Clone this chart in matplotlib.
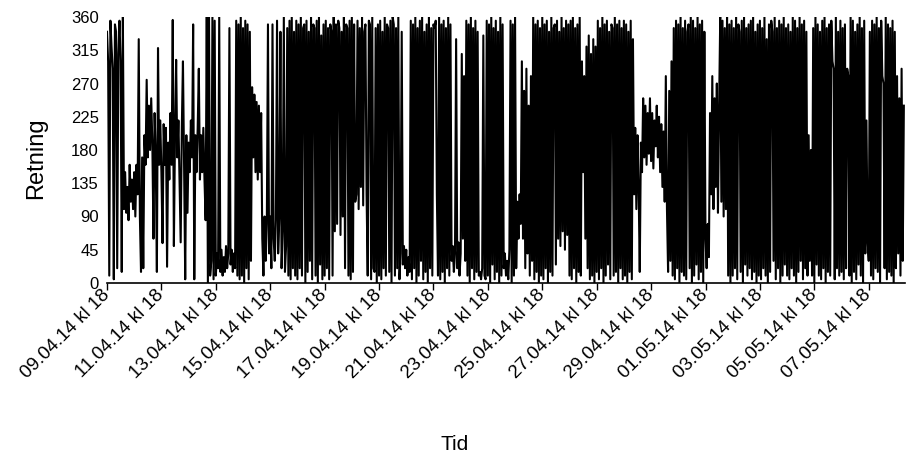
import matplotlib
matplotlib.use('Agg')
import matplotlib.pyplot as plt
import numpy as np

plt.rcParams['font.family'] = ['Liberation Sans', 'DejaVu Sans']

# wind direction (degrees), hourly readings from 09.04.14 kl 18
step_hours = 1

week1 = [340, 300, 10, 355, 320, 290, 5, 350, 340, 20, 310, 355, 300, 15, 360, 100, 150, 95, 130, 85, 160, 110, 140, 100,
         150, 90, 160, 120, 330, 90, 15, 170, 20, 200, 160, 275, 170, 240, 180, 250, 190, 60, 230, 170, 15, 318, 160, 220,
         150, 54, 215, 160, 210, 22, 190, 140, 230, 160, 356, 50, 200, 302, 170, 220, 140, 55, 210, 300, 160, 5, 200, 95,
         190, 150, 220, 170, 350, 5, 200, 150, 210, 290, 140, 200, 150, 210, 140, 85, 360, 0, 360, 10, 30, 360, 5, 355,
         10, 40, 20, 360, 15, 45, 10, 35, 15, 50, 20, 40, 345, 25, 45, 15, 40, 20, 355, 10, 350, 5, 360, 10,
         345, 0, 355, 20, 350, 5, 340, 30, 265, 170, 255, 150, 245, 140, 240, 150, 230, 60, 10, 90, 30, 80, 350, 40,
         90, 20, 350, 60, 30, 85, 355, 40, 90, 340, 20, 70, 360, 15, 50, 345, 10, 355, 5, 360, 20, 340, 10, 355]

week2 = [5, 350, 20, 360, 10, 345, 350, 0, 355, 15, 340, 30, 360, 5, 350, 345, 10, 355, 0, 360, 25, 335, 5, 350,
         10, 355, 20, 345, 5, 350, 340, 10, 360, 70, 350, 80, 355, 345, 65, 340, 90, 360, 20, 350, 345, 10, 355, 5,
         360, 15, 350, 110, 120, 355, 100, 345, 130, 360, 105, 340, 350, 120, 10, 355, 350, 5, 360, 20, 15, 345, 0, 350,
         10, 355, 5, 340, 20, 360, 10, 350, 345, 15, 355, 0, 360, 350, 10, 345, 20, 360, 5, 40, 340, 25, 50, 20,
         45, 10, 35, 15, 355, 5, 350, 20, 360, 0, 345, 10, 355, 30, 360, 5, 340, 15, 350, 0, 360, 20, 345, 10,
         350, 345, 355, 120, 10, 360, 5, 350, 15, 355, 0, 345, 20, 360, 10, 350, 30, 50, 15, 40, 330, 20, 55, 10,
         40, 310, 60, 280, 30, 355, 10, 350, 0, 360, 20, 345, 5, 355, 15, 340, 10, 15, 5, 20, 335, 10, 5, 355]

week3 = [10, 350, 0, 360, 25, 345, 5, 355, 15, 340, 0, 360, 10, 350, 20, 40, 10, 30, 5, 45, 355, 0, 350, 10,
         360, 20, 110, 60, 120, 80, 300, 60, 260, 20, 290, 40, 240, 10, 280, 30, 360, 5, 350, 15, 355, 0, 345, 10,
         360, 5, 350, 20, 355, 0, 340, 15, 360, 10, 345, 350, 25, 355, 60, 340, 50, 360, 70, 345, 45, 355, 65, 350,
         10, 355, 5, 360, 20, 345, 0, 350, 15, 360, 10, 300, 150, 280, 60, 320, 20, 335, 5, 310, 10, 330, 0, 320,
         15, 355, 5, 345, 20, 360, 0, 350, 10, 355, 25, 340, 5, 350, 345, 10, 360, 15, 350, 0, 355, 20, 345, 5,
         355, 10, 350, 0, 340, 15, 355, 5, 330, 120, 210, 100, 200, 130, 15, 190, 150, 250, 170, 240, 160, 230, 175, 250,
         165, 230, 155, 220, 185, 240, 170, 225, 150, 215, 130, 205, 110, 280, 100, 15, 260, 30, 300, 10, 345, 5, 355, 20]

week4 = [350, 0, 360, 15, 345, 10, 355, 5, 340, 350, 20, 360, 0, 355, 10, 345, 25, 360, 5, 350, 15, 355, 0, 340,
         60, 20, 80, 35, 230, 120, 280, 100, 250, 130, 270, 95, 240, 360, 110, 355, 90, 345, 100, 360, 10, 350, 0, 355,
         10, 345, 20, 360, 5, 350, 340, 15, 355, 0, 360, 25, 345, 10, 350, 20, 355, 5, 360, 15, 340, 0, 350, 10,
         355, 5, 345, 20, 360, 10, 330, 0, 350, 15, 355, 340, 30, 360, 5, 345, 20, 355, 0, 350, 10, 360, 25, 345,
         10, 350, 5, 340, 20, 360, 10, 355, 0, 345, 15, 360, 30, 350, 5, 355, 20, 340, 10, 200, 30, 180, 10, 345,
         0, 360, 25, 350, 10, 340, 5, 355, 20, 360, 0, 345, 15, 350, 10, 355, 300, 290, 5, 360, 20, 340, 10, 355,
         15, 345, 5, 350, 20, 290, 280, 10, 360, 0, 355, 15, 340, 5, 350, 25, 360, 10, 345, 0, 355, 40, 220, 60]

week5 = [30, 340, 10, 355, 5, 350, 20, 360, 15, 345, 0, 355, 280, 270, 20, 360, 5, 350, 15, 345, 10, 355, 0, 340,
         20, 280, 40, 250, 10, 290, 30, 240]

tick_labels = ['09.04.14 kl 18', '11.04.14 kl 18', '13.04.14 kl 18',
               '15.04.14 kl 18', '17.04.14 kl 18', '19.04.14 kl 18',
               '21.04.14 kl 18', '23.04.14 kl 18', '25.04.14 kl 18',
               '27.04.14 kl 18', '29.04.14 kl 18', '01.05.14 kl 18',
               '03.05.14 kl 18', '05.05.14 kl 18', '07.05.14 kl 18']

direction = week1 + week2 + week3 + week4 + week5
hours = np.arange(len(direction)) * step_hours

fig = plt.figure(figsize=(9.11, 4.67), dpi=100)
ax = fig.add_axes([107 / 911, 1 - 283 / 467, 798 / 911, 266 / 467])

ax.plot(hours, direction, color='black', lw=1.5)

ax.set_xlim(0, 704)
ax.set_ylim(0, 360)
ax.set_yticks(range(0, 361, 45))
ax.set_xticks(range(0, 48 * len(tick_labels), 48))
ax.set_xticklabels(tick_labels, rotation=45, ha='right', va='center',
                   rotation_mode='anchor', fontsize=13.5)
ax.tick_params(axis='y', length=0, pad=6, labelsize=12)
ax.tick_params(axis='x', length=5, width=1, direction='out', pad=2)

for side in ['top', 'right', 'left']:
    ax.spines[side].set_visible(False)
ax.spines['bottom'].set_linewidth(1.2)

ax.set_ylabel('Retning', fontsize=17)
ax.yaxis.set_label_coords(-0.075, 0.47)
ax.set_xlabel('Tid', fontsize=15)
ax.xaxis.set_label_coords(0.436, -0.571)

fig.savefig('out.png', dpi=100)
